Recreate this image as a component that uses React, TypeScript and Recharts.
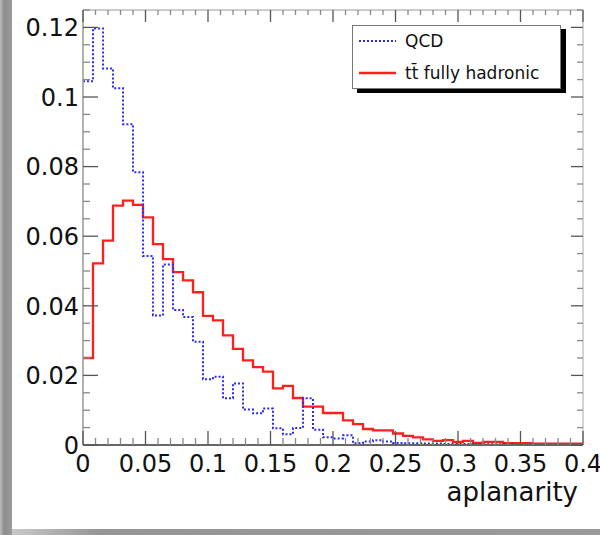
import React from 'react';
import { ComposedChart, Line, XAxis, YAxis } from 'recharts';

const binEdges = [0, 0.008, 0.016, 0.024, 0.032, 0.04, 0.048, 0.056, 0.064, 0.072, 0.08, 0.088, 0.096, 0.104, 0.112, 0.12, 0.128, 0.136, 0.144, 0.152, 0.16, 0.168, 0.176, 0.184, 0.192, 0.2, 0.208, 0.216, 0.224, 0.232, 0.24, 0.248, 0.256, 0.264, 0.272, 0.28, 0.288, 0.296, 0.304, 0.312, 0.32, 0.328, 0.336, 0.344, 0.352, 0.36, 0.368, 0.376, 0.384, 0.392, 0.4];

const qcdValues = [0.1045, 0.1197, 0.1082, 0.1025, 0.0922, 0.0784, 0.0543, 0.0372, 0.0519, 0.0388, 0.0368, 0.0297, 0.0189, 0.0196, 0.0134, 0.0177, 0.0102, 0.0091, 0.0105, 0.0048, 0.0031, 0.0049, 0.0134, 0.0044, 0.0022, 0.0019, 0.0028, 0.0005, 0.001, 0.0014, 0.001, 0.0006, 0.0005, 0.0005, 0.0004, 0.0004, 0.0003, 0.0003, 0.0003, 0.0002, 0.0002, 0.0002, 0.0002, 0.0001, 0.0001, 0.0001, 0.0001, 0.0001, 0.0001, 0.0001];

const ttbarValues = [0.025, 0.0522, 0.0587, 0.0688, 0.0702, 0.069, 0.0654, 0.0577, 0.0534, 0.0497, 0.0473, 0.0439, 0.0371, 0.0358, 0.0315, 0.0276, 0.0243, 0.0224, 0.0211, 0.0163, 0.017, 0.0135, 0.011, 0.011, 0.0092, 0.0092, 0.0071, 0.006, 0.0046, 0.0042, 0.0042, 0.0033, 0.0026, 0.0022, 0.0016, 0.0012, 0.0014, 0.0009, 0.0012, 0.0006, 0.0009, 0.0009, 0.0005, 0.0005, 0.0005, 0.0004, 0.0004, 0.0004, 0.0004, 0.0004];

const xMinorTicks = [0, 0.01, 0.02, 0.03, 0.04, 0.05, 0.06, 0.07, 0.08, 0.09, 0.1, 0.11, 0.12, 0.13, 0.14, 0.15, 0.16, 0.17, 0.18, 0.19, 0.2, 0.21, 0.22, 0.23, 0.24, 0.25, 0.26, 0.27, 0.28, 0.29, 0.3, 0.31, 0.32, 0.33, 0.34, 0.35, 0.36, 0.37, 0.38, 0.39, 0.4];
const yMinorTicks = [0, 0.005, 0.01, 0.015, 0.02, 0.025, 0.03, 0.035, 0.04, 0.045, 0.05, 0.055, 0.06, 0.065, 0.07, 0.075, 0.08, 0.085, 0.09, 0.095, 0.1, 0.105, 0.11, 0.115, 0.12, 0.125];

const seriesNames = ['QCD', 't\u0074\u0304 fully hadronic'];
const xTitle = 'aplanarity';

const data = binEdges.map((x, i) => ({
  x,
  qcd: qcdValues[Math.min(i, qcdValues.length - 1)],
  tt: ttbarValues[Math.min(i, ttbarValues.length - 1)],
}));

const FONT = '"DejaVu Sans", sans-serif';

const isMultiple = (v: number, step: number) => Math.abs(v / step - Math.round(v / step)) < 1e-6;
const fmt = (v: number) => String(Number(v.toFixed(3)));

const BottomTick = (props: any) => {
  const { x, y, payload } = props;
  const v = payload.value;
  const major = isMultiple(v, 0.05);
  return (
    <g>
      <line x1={x} x2={x} y1={y} y2={y - (major ? 14 : 7)} stroke={major ? '#555' : '#888'} strokeWidth={1.3} />
      {major && (
        <text x={x} y={y + 27} textAnchor="middle" fontFamily={FONT} fontSize={24} fill="#111">
          {fmt(v)}
        </text>
      )}
    </g>
  );
};

const TopTick = (props: any) => {
  const { x, y, payload } = props;
  const major = isMultiple(payload.value, 0.05);
  return <line x1={x} x2={x} y1={y} y2={y + (major ? 12 : 5)} stroke={major ? '#555' : '#888'} strokeWidth={1.3} />;
};

const LeftTick = (props: any) => {
  const { x, y, payload } = props;
  const v = payload.value;
  const major = isMultiple(v, 0.02);
  return (
    <g>
      <line x1={x} x2={x + (major ? 15 : 7)} y1={y} y2={y} stroke={major ? '#555' : '#888'} strokeWidth={1.3} />
      {major && (
        <text x={x - 4} y={y + 8.7} textAnchor="end" fontFamily={FONT} fontSize={24} fill="#111">
          {fmt(v)}
        </text>
      )}
    </g>
  );
};

const RightTick = (props: any) => {
  const { x, y, payload } = props;
  const major = isMultiple(payload.value, 0.02);
  return <line x1={x} x2={x - (major ? 12 : 6)} y1={y} y2={y} stroke={major ? '#555' : '#888'} strokeWidth={1.3} />;
};

const XTitle = (props: any) => {
  const vb = props.viewBox || { x: 83, y: 445, width: 500, height: 90 };
  return (
    <text x={vb.x + vb.width - 5} y={vb.y + 56} textAnchor="end" fontFamily={FONT} fontSize={26} fill="#111">
      {xTitle}
    </text>
  );
};

export default function App() {
  return (
    <div style={{ position: 'fixed', left: 0, top: 0, width: 600, height: 535, background: '#fff', overflow: 'hidden' }}>
      <ComposedChart width={600} height={535} data={data} margin={{ top: 0, right: 0, bottom: 0, left: 0 }}>
        <XAxis
          xAxisId="b"
          dataKey="x"
          type="number"
          domain={[0, 0.4]}
          allowDataOverflow
          ticks={xMinorTicks}
          interval={0}
          height={90}
          tickSize={0}
          tickMargin={0}
          tickLine={false}
          tick={<BottomTick />}
          axisLine={{ stroke: '#666', strokeWidth: 2 }}
          label={<XTitle />}
        />
        <XAxis
          xAxisId="t"
          orientation="top"
          dataKey="x"
          type="number"
          domain={[0, 0.4]}
          allowDataOverflow
          ticks={xMinorTicks}
          interval={0}
          height={10}
          tickSize={0}
          tickMargin={0}
          tickLine={false}
          tick={<TopTick />}
          axisLine={{ stroke: '#999', strokeWidth: 1 }}
        />
        <YAxis
          yAxisId="l"
          type="number"
          domain={[0, 0.125]}
          allowDataOverflow
          ticks={yMinorTicks}
          interval={0}
          width={83}
          tickSize={0}
          tickMargin={0}
          tickLine={false}
          tick={<LeftTick />}
          axisLine={{ stroke: '#999', strokeWidth: 1.5 }}
        />
        <YAxis
          yAxisId="r"
          orientation="right"
          type="number"
          domain={[0, 0.125]}
          allowDataOverflow
          ticks={yMinorTicks}
          interval={0}
          width={17}
          tickSize={0}
          tickMargin={0}
          tickLine={false}
          tick={<RightTick />}
          axisLine={{ stroke: '#aaa', strokeWidth: 1 }}
        />
        <Line
          xAxisId="b"
          yAxisId="l"
          type="stepAfter"
          dataKey="tt"
          name={seriesNames[1]}
          stroke="#ff1f1f"
          strokeWidth={2.3}
          dot={false}
          activeDot={false}
          isAnimationActive={false}
        />
        <Line
          xAxisId="b"
          yAxisId="l"
          type="stepAfter"
          dataKey="qcd"
          name={seriesNames[0]}
          stroke="#2a2aff"
          strokeWidth={2}
          strokeDasharray="2 2"
          dot={false}
          activeDot={false}
          isAnimationActive={false}
        />
        <Line
          xAxisId="t"
          yAxisId="r"
          type="stepAfter"
          dataKey="qcd"
          stroke="none"
          dot={false}
          activeDot={false}
          legendType="none"
          isAnimationActive={false}
        />
      </ComposedChart>

      <div
        style={{
          position: 'absolute',
          left: 352,
          top: 25,
          width: 207,
          height: 62,
          border: '1px solid #777',
          background: '#fff',
          boxShadow: '5px 4px 0 #000',
          fontFamily: FONT,
          fontSize: 17,
          color: '#111',
        }}
      >
        <svg width={207} height={62} style={{ position: 'absolute', left: 0, top: 0 }}>
          <line x1={6} x2={43} y1={15} y2={15} stroke="#2a2aff" strokeWidth={2} strokeDasharray="2 2" />
          <line x1={6} x2={43} y1={47} y2={47} stroke="#ff1f1f" strokeWidth={2.3} />
          <text x={52} y={21} fontFamily={FONT} fontSize={17} fill="#111">{seriesNames[0]}</text>
          <text x={52} y={53} fontFamily={FONT} fontSize={17} fill="#111">{seriesNames[1]}</text>
        </svg>
      </div>

      <div style={{ position: 'absolute', left: 0, top: 0, width: 12, height: 535, background: 'linear-gradient(to right, #bdbdbd 0%, #8c8c8c 35%, #9c9c9c 100%)' }} />
      <div style={{ position: 'absolute', left: 12, top: 529, width: 588, height: 6, background: 'linear-gradient(to right, #c8c8c8 0%, #959595 15%, #9a9a9a 100%)' }} />
    </div>
  );
}
